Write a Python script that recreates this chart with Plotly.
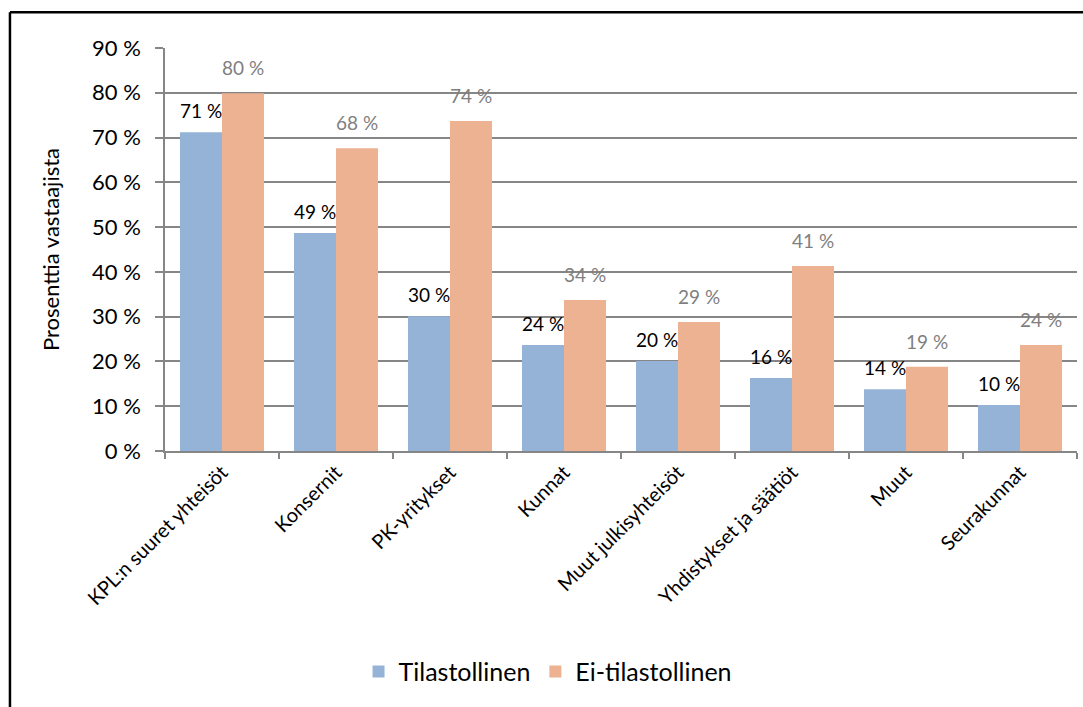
import plotly.graph_objects as go

categories = ["KPL:n suuret yhteisöt", "Konsernit", "PK-yritykset", "Kunnat",
              "Muut julkisyhteisöt", "Yhdistykset ja säätiöt", "Muut", "Seurakunnat"]
tilastollinen = [71.2, 48.7, 30.1, 23.7, 20.1, 16.3, 13.8, 10.3]
ei_tilastollinen = [79.9, 67.6, 73.7, 33.7, 28.8, 41.3, 18.8, 23.7]
tick_vals = [0, 10, 20, 30, 40, 50, 60, 70, 80, 90]
tick_text = [f"{v} %" for v in tick_vals]

FONT = "Lato"
BLUE = "#95B3D7"
ORANGE = "#EDB292"

fig = go.Figure()
fig.add_trace(go.Bar(
    x=categories, y=tilastollinen, name="Tilastollinen",
    marker=dict(color=BLUE, line=dict(width=0)),
))
fig.add_trace(go.Bar(
    x=categories, y=ei_tilastollinen, name="Ei-tilastollinen",
    marker=dict(color=ORANGE, line=dict(width=0)),
))

for cat, v in zip(categories, tilastollinen):
    fig.add_annotation(x=cat, y=v, xref="x", yref="y", text=f"{round(v)} %",
                       showarrow=False, xshift=-21, yshift=8, yanchor="bottom",
                       font=dict(family=FONT, size=19, color="#000000"))
for cat, v in zip(categories, ei_tilastollinen):
    fig.add_annotation(x=cat, y=v, xref="x", yref="y", text=f"{round(v)} %",
                       showarrow=False, xshift=21, yshift=12, yanchor="bottom",
                       font=dict(family=FONT, size=19, color="#7F7F7F"))

fig.update_layout(
    width=1083, height=707,
    margin=dict(l=165, r=6, t=48, b=256),
    paper_bgcolor="white", plot_bgcolor="white",
    barmode="group", bargap=0.263, bargroupgap=0,
    font=dict(family=FONT, color="#000000"),
    legend=dict(orientation="h", x=0.42, xanchor="center", y=-0.548, yanchor="middle",
                font=dict(family=FONT, size=25, color="#000000"),
                itemwidth=30, traceorder="normal"),
    showlegend=True,
)
fig.update_xaxes(
    type="category", tickangle=-45, tickson="boundaries", ticks="outside",
    ticklen=6, tickcolor="#868686", tickwidth=1.5,
    showline=True, linecolor="#868686", linewidth=1.5,
    tickfont=dict(family=FONT, size=20, color="#000000"),
    showgrid=False,
)
fig.update_yaxes(
    range=[0, 90], tickvals=tick_vals, ticktext=tick_text,
    ticks="outside", ticklen=8, tickcolor="#868686", tickwidth=1.5,
    showline=True, linecolor="#868686", linewidth=1.5,
    showgrid=True, gridcolor="#868686", gridwidth=1.5,
    tickfont=dict(family=FONT, size=22, color="#000000"),
    ticklabelstandoff=10,
    title=dict(text="Prosenttia vastaajista", font=dict(family=FONT, size=22, color="#000000"), standoff=26),
    zeroline=False,
)
# outer frame (top and left edges visible)
fig.add_shape(type="line", xref="paper", yref="paper", x0=-0.170, x1=1.2, y0=1.089, y1=1.089,
              line=dict(color="black", width=2.5))
fig.add_shape(type="line", xref="paper", yref="paper", x0=-0.170, x1=-0.170, y0=1.089, y1=-1.0,
              line=dict(color="black", width=2.5))

fig.write_html("out.html")
